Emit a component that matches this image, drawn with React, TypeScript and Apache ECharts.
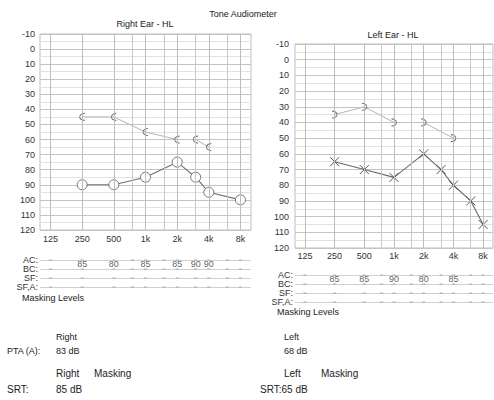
import React, { useEffect, useRef } from 'react';
import * as echarts from 'echarts';

const freqLabels = ['125', '250', '500', '1k', '2k', '4k', '8k'];
const octaveFreqs = [125, 250, 500, 1000, 2000, 4000, 8000];
const halfFreqs = [750, 1500, 3000, 6000];

const rightACFreqs = [250, 500, 1000, 2000, 3000, 4000, 8000];
const rightAC = [90, 90, 85, 75, 85, 95, 100];
const rightBCFreqs = [250, 500, 1000, 2000, 2500, 3000, 4000];
const rightBC: (number | null)[] = [45, 45, 55, 60, null, 60, 65];

const leftACFreqs = [250, 500, 1000, 2000, 3000, 4000, 6000, 8000];
const leftAC = [65, 70, 75, 60, 70, 80, 90, 105];
const leftBCFreqs = [250, 500, 1000, 1500, 2000, 4000];
const leftBC: (number | null)[] = [35, 30, 40, null, 40, 50];

const rightMaskFreqs = [250, 500, 1000, 2000, 3000, 4000];
const rightMask = [85, 80, 85, 85, 90, 90];
const leftMaskFreqs = [250, 500, 1000, 2000, 4000];
const leftMask = [85, 85, 90, 80, 85];
const maskRows = ['AC:', 'BC:', 'SF:', 'SF,A:'];

const FONT = 'Liberation Sans, Arial, sans-serif';
const oct = (f: number) => Math.log2(f / 125);
const X_MIN = -1 / 3;
const X_MAX = 6 + 1 / 3;

const C_SYMBOL = 'path://M9,1 A5,5 0 1,0 9,11';
const D_SYMBOL = 'path://M1,1 A5,5 0 1,1 1,11';
const X_SYMBOL = 'path://M0,0 L10,10 M10,0 L0,10';

function xAxisMain(gridIndex: number, margin: number) {
  return {
    type: 'value', gridIndex, min: X_MIN, max: X_MAX,
    axisLine: { show: false }, axisTick: { show: false }, splitLine: { show: false },
    axisLabel: {
      customValues: octaveFreqs.map(oct), margin, fontSize: 9, color: '#333', fontFamily: FONT,
      formatter: (v: number) => freqLabels[Math.round(v)] ?? '',
    },
  };
}
function xAxisMask(gridIndex: number) {
  return {
    type: 'value', gridIndex, min: X_MIN, max: X_MAX,
    axisLine: { show: false }, axisTick: { show: false }, splitLine: { show: false }, axisLabel: { show: false },
  };
}
function yAxisMain(gridIndex: number, margin: number) {
  return {
    type: 'value', gridIndex, inverse: true, min: -10, max: 120, interval: 10,
    axisLine: { show: false }, axisTick: { show: false },
    axisLabel: { fontSize: 9, color: '#333', margin, fontFamily: FONT },
    splitLine: { lineStyle: { color: '#c4c4c4', width: 1 } },
    minorTick: { show: false, splitNumber: 2 },
    minorSplitLine: { show: true, lineStyle: { color: '#e2e2e2', width: 1 } },
  };
}
function yAxisMask(gridIndex: number) {
  return {
    type: 'value', gridIndex, inverse: true, min: 0, max: 3, interval: 1,
    axisLine: { show: false }, axisTick: { show: false },
    axisLabel: { fontSize: 9, color: '#333', margin: 2, fontFamily: FONT, formatter: (v: number) => maskRows[v] ?? '' },
    splitLine: { lineStyle: { color: '#d0d0d0', width: 1 } },
  };
}
function gridLinesSeries(axisIndex: number) {
  return {
    type: 'line', xAxisIndex: axisIndex, yAxisIndex: axisIndex, data: [], z: 1, silent: true,
    markLine: {
      silent: true, symbol: ['none', 'none'], label: { show: false }, animation: false,
      data: [
        ...octaveFreqs.map((f) => ({ xAxis: oct(f), lineStyle: { color: '#bdbdbd', type: 'solid', width: 1 } })),
        ...halfFreqs.map((f) => ({ xAxis: oct(f), lineStyle: { color: '#c8c8c8', type: 'solid', width: 1 } })),
      ],
    },
  };
}
function maskTicks(axisIndex: number) {
  const data: number[][] = [];
  [...octaveFreqs, ...halfFreqs].forEach((f) => {
    for (let r = 0; r < maskRows.length; r++) data.push([oct(f), r]);
  });
  return {
    type: 'scatter', xAxisIndex: axisIndex, yAxisIndex: axisIndex, data, symbol: 'rect', symbolSize: [3, 1],
    itemStyle: { color: '#999' }, silent: true, z: 2,
  };
}
function maskValues(axisIndex: number, freqs: number[], vals: number[]) {
  return {
    type: 'scatter', xAxisIndex: axisIndex, yAxisIndex: axisIndex,
    data: freqs.map((f, i) => ({ value: [oct(f), 1], label: { formatter: String(vals[i]) } })),
    symbolSize: 1, itemStyle: { color: 'rgba(0,0,0,0)' },
    label: { show: true, position: 'top', distance: 0, fontSize: 9, color: '#333', fontFamily: FONT },
    z: 3,
  };
}
const pts = (freqs: number[], vals: (number | null)[]) =>
  freqs.map((f, i) => [oct(f), vals[i] === null ? '-' : vals[i]]);

function txt(text: string, x: number, y: number, fontSize = 9, align = 'left') {
  return {
    type: 'text', x, y, silent: true,
    style: { text, fontSize, fontFamily: FONT, fill: '#222', align, verticalAlign: 'middle' },
  };
}

export default function App() {
  const ref = useRef<HTMLDivElement>(null);
  useEffect(() => {
    if (!ref.current) return;
    const chart = echarts.init(ref.current, null, { renderer: 'svg' });
    chart.setOption({
      animation: false,
      backgroundColor: '#fff',
      grid: [
        { left: 40, top: 34, width: 211, height: 196, show: true, borderColor: '#bdbdbd', borderWidth: 1 },
        { left: 295, top: 44, width: 198, height: 204, show: true, borderColor: '#bdbdbd', borderWidth: 1 },
        { left: 40, top: 260, width: 211, height: 27 },
        { left: 295, top: 275, width: 198, height: 27 },
      ],
      xAxis: [xAxisMain(0, 4), xAxisMain(1, 3), xAxisMask(2), xAxisMask(3)],
      yAxis: [yAxisMain(0, 5), yAxisMain(1, 6), yAxisMask(2), yAxisMask(3)],
      series: [
        gridLinesSeries(0),
        gridLinesSeries(1),
        {
          name: 'Right AC', type: 'line', xAxisIndex: 0, yAxisIndex: 0, data: pts(rightACFreqs, rightAC),
          symbol: 'circle', symbolSize: 10, z: 4,
          lineStyle: { color: '#707070', width: 1.1 },
          itemStyle: { color: '#ffffff', borderColor: '#666', borderWidth: 0.9 },
        },
        {
          name: 'Right BC', type: 'line', xAxisIndex: 0, yAxisIndex: 0, data: pts(rightBCFreqs, rightBC),
          symbol: C_SYMBOL, symbolSize: [5, 7], z: 3, connectNulls: false,
          lineStyle: { color: '#b5b5b5', width: 1 },
          itemStyle: { color: 'none', borderColor: '#777', borderWidth: 1 },
        },
        {
          name: 'Left AC', type: 'line', xAxisIndex: 1, yAxisIndex: 1, data: pts(leftACFreqs, leftAC),
          symbol: X_SYMBOL, symbolSize: 9, z: 4,
          lineStyle: { color: '#6a6a6a', width: 1.1 },
          itemStyle: { color: 'none', borderColor: '#555', borderWidth: 1 },
        },
        {
          name: 'Left BC', type: 'line', xAxisIndex: 1, yAxisIndex: 1, data: pts(leftBCFreqs, leftBC),
          symbol: D_SYMBOL, symbolSize: [5, 7], z: 3, connectNulls: false,
          lineStyle: { color: '#b5b5b5', width: 1 },
          itemStyle: { color: 'none', borderColor: '#777', borderWidth: 1 },
        },
        maskTicks(2),
        maskTicks(3),
        maskValues(2, rightMaskFreqs, rightMask),
        maskValues(3, leftMaskFreqs, leftMask),
      ],
      graphic: [
        txt('Tone Audiometer', 243, 14, 9, 'center'),
        txt('Right Ear - HL', 145, 24, 9, 'center'),
        txt('Left Ear - HL', 393, 35, 9, 'center'),
        txt('Masking Levels', 22, 298, 9),
        txt('Masking Levels', 277, 312, 9),
        txt('Right', 56, 337, 9),
        txt('PTA (A):', 7, 351, 9),
        txt('83 dB', 56, 351, 9),
        txt('Left', 284, 337, 9),
        txt('68 dB', 284, 351, 9),
        txt('Right', 56, 373, 10),
        txt('Masking', 94, 373, 10),
        txt('SRT:', 7, 389, 10),
        txt('85 dB', 56, 389, 10),
        txt('Left', 284, 373, 10),
        txt('Masking', 321, 373, 10),
        txt('SRT:65 dB', 260, 389, 10),
      ],
    });
    return () => chart.dispose();
  }, []);
  return <div ref={ref} style={{ position: 'fixed', left: 0, top: 0, width: 494, height: 400 }} />;
}
